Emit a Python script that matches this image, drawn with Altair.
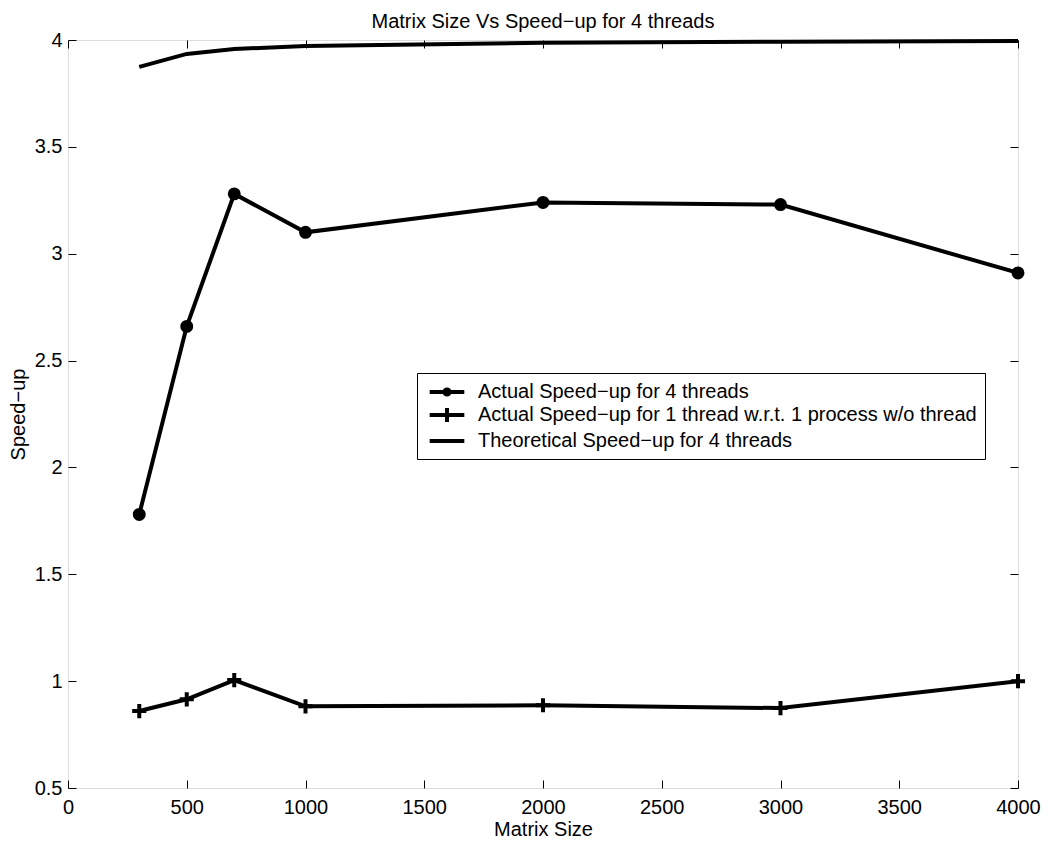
import altair as alt
import pandas as pd

# ---- data ----
matrix_sizes = [300, 500, 700, 1000, 2000, 3000, 4000]
actual_4_threads = [1.78, 2.66, 3.28, 3.10, 3.24, 3.23, 2.91]
actual_1_thread = [0.86, 0.915, 1.005, 0.882, 0.887, 0.874, 1.0]
theoretical_4_threads = [3.874, 3.935, 3.958, 3.972, 3.987, 3.992, 3.995]

series_names = [
    "Actual Speed−up for 4 threads",
    "Actual Speed−up for 1 thread w.r.t. 1 process w/o thread",
    "Theoretical Speed−up for 4 threads",
]
x_ticks = [0, 500, 1000, 1500, 2000, 2500, 3000, 3500, 4000]
y_ticks = [0.5, 1, 1.5, 2, 2.5, 3, 3.5, 4]

rows = []
for name, vals in zip(series_names, [actual_4_threads, actual_1_thread, theoretical_4_threads]):
    for s, v in zip(matrix_sizes, vals):
        rows.append({"size": s, "speedup": v, "series": name})
df = pd.DataFrame(rows)

FONT = "Liberation Sans"
FS = 20

# marker shapes for the plot (circle, thin plus)
plus_path = "M-1,0H1M0,-1V1"
# legend symbols: line with marker (stroked only)
legend_paths = [
    "M-2,0H2M-0.3,0A0.3,0.3 0 1,0 0.3,0A0.3,0.3 0 1,0 -0.3,0M-0.1,0A0.1,0.1 0 1,0 0.1,0A0.1,0.1 0 1,0 -0.1,0",
    "M-2,0H2M0,-0.8V0.8",
    "M-2,0H2",
]

x_scale = alt.Scale(domain=[0, 4000], nice=False, zero=False)
y_scale = alt.Scale(domain=[0.5, 4], nice=False, zero=False)

x_enc = alt.X(
    "size:Q",
    scale=x_scale,
    axis=alt.Axis(
        values=x_ticks, format="d", orient="bottom", offset=-8, tickSize=8,
        domain=False, grid=False, labelPadding=9, title="Matrix Size",
        titlePadding=2, labelFontSize=FS, titleFontSize=FS,
        titleFontWeight="normal", labelColor="black", titleColor="black",
        tickColor="black", labelFont=FONT, titleFont=FONT, labelFlush=False,
    ),
)
y_enc = alt.Y(
    "speedup:Q",
    scale=y_scale,
    axis=alt.Axis(
        values=y_ticks, format="~g", orient="left", offset=-8, tickSize=8,
        domain=False, grid=False, labelPadding=6, title="Speed−up",
        titlePadding=6, labelFontSize=FS, titleFontSize=FS,
        titleFontWeight="normal", labelColor="black", titleColor="black",
        tickColor="black", labelFont=FONT, titleFont=FONT, labelFlush=False,
    ),
)

x_plain = alt.X("size:Q", scale=x_scale, axis=None)
y_plain = alt.Y("speedup:Q", scale=y_scale, axis=None)

lines = alt.Chart(df).mark_line(color="black", strokeWidth=4).encode(
    x=x_enc, y=y_enc, detail="series:N"
)

points = (
    alt.Chart(df)
    .transform_filter(alt.datum.series != series_names[2])
    .mark_point(filled=True, fill="black", stroke="black", strokeWidth=4, opacity=1)
    .encode(
        x=x_plain,
        y=y_plain,
        shape=alt.Shape(
            "series:N",
            scale=alt.Scale(domain=series_names[:2], range=["circle", plus_path]),
            legend=None,
        ),
        size=alt.Size(
            "series:N",
            scale=alt.Scale(domain=series_names[:2], range=[80, 200]),
            legend=None,
        ),
    )
)

legend_layer = alt.Chart(df).mark_point(
    filled=False, stroke="black", color="black", strokeWidth=4, opacity=0
).encode(
    x=x_plain,
    y=y_plain,
    shape=alt.Shape(
        "series:N",
        scale=alt.Scale(domain=series_names, range=legend_paths),
        legend=alt.Legend(
            title=None, orient="none", legendX=349, legendY=333,
            strokeColor="black", fillColor="white", padding=8,
            labelFontSize=FS, labelFont=FONT, labelColor="black",
            symbolSize=300, symbolStrokeWidth=4,
            symbolStrokeColor="black", symbolOpacity=1, labelOffset=20,
            symbolOffset=11, rowPadding=-3, labelLimit=1000, cornerRadius=0,
        ),
    ),
)

frame_axes = alt.Chart(df).mark_line(opacity=0).encode(
    x=alt.X("size:Q", scale=x_scale,
            axis=alt.Axis(values=x_ticks, orient="top", offset=-8, tickSize=8,
                          domain=False, grid=False, labels=False, title=None,
                          tickColor="black")),
    y=alt.Y("speedup:Q", scale=y_scale,
            axis=alt.Axis(values=y_ticks, orient="right", offset=-8, tickSize=8,
                          domain=False, grid=False, labels=False, title=None,
                          tickColor="black")),
    detail="series:N",
)

chart = (
    alt.layer(lines, frame_axes, points, legend_layer)
    .resolve_scale(shape="independent", size="independent")
    .properties(
        width=950,
        height=748,
        autosize=alt.AutoSizeParams(type="none"),
        padding={"left": 60, "top": 32, "right": 23, "bottom": 53},
        title=alt.TitleParams(
            "Matrix Size Vs Speed−up for 4 threads", fontSize=FS, fontWeight="normal",
            font=FONT, color="black", anchor="middle", offset=9, dy=11,
        ),
    )
    .configure_view(stroke="black", strokeWidth=1.5)
    .configure(font=FONT)
    .configure_axis(tickWidth=1, ticks=True)
)

chart.save("out.html", embed_options={"renderer": "svg", "actions": False})
